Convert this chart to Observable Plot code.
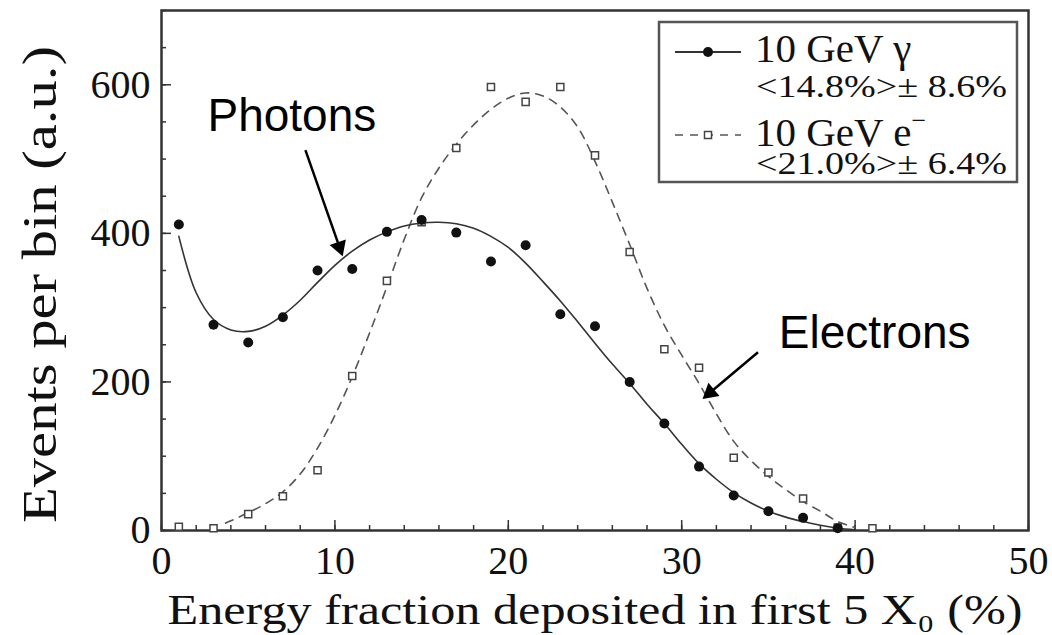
<!DOCTYPE html>
<html>
<head>
<meta charset="utf-8">
<script src="https://cdn.jsdelivr.net/npm/d3@7"></script>
<script src="https://cdn.jsdelivr.net/npm/@observablehq/plot@0.6"></script>
<style>
  html, body { margin: 0; padding: 0; background: #fff; }
  #wrap { position: relative; width: 1052px; height: 635px; overflow: hidden; }
  #legend { position: absolute; left: 0; top: 0; pointer-events: none; }
</style>
</head>
<body>
<div id="wrap"><div id="chart"></div></div>
<script>
// ---- data ----
const photonX = [1,3,5,7,9,11,13,15,17,19,21,23,25,27,29,31,33,35,37,39];
const photonEvents = [412,277,253,287,350,352,402,418,401,362,384,291,275,200,144,86,47,26,17,3];

const electronX = [1,3,5,7,9,11,13,15,17,19,21,23,25,27,29,31,33,35,37,39,41];
const electronEvents = [5,3,22,46,81,208,336,415,515,597,577,597,505,375,244,219,98,78,43,4,3];

// fitted curves
const photonFitX = [1,2,3,4,5,6,7,8,9,10,11,12,13,14,15,16,17,18,19,20,21,22,23,24,25,26,27,28,29,30,31,32,33,34,35,36,37,38,39,40];
const photonFitY = [396,320,284,270,268,275,290,310,334,357,376,391,402,410,414,415,413,407,396,381,360,335,309,281,252,224,198,170,144,116,90,69,51,37,26,18,12,7,3,1];

const electronFitX = [3.7,4,5,6,7,8,9,10,11,12,13,14,15,16,17,18,19,20,21,22,23,24,25,26,27,28,29,30,31,32,33,34,35,36,37,38,39,40];
const electronFitY = [10,13,24,36,52,76,111,155,207,266,328,392,448,488,520,546,567,582,589,585,570,543,497,442,385,326,276,236,198,157,120,94,73,55,39,26,12,4];

const xMajorTicks = [0,10,20,30,40,50];
const xMinorTicks = [0,2,4,6,8,10,12,14,16,18,20,22,24,26,28,30,32,34,36,38,40,42,44,46,48,50];
const yMajorTicks = [0,200,400,600];
const yMinorTicks = [0,50,100,150,200,250,300,350,400,450,500,550,600,650,700];

const annotationLabels = ["Photons","Electrons"];
const annotationX = [2.65, 35.6];
const annotationY = [558, 265];
const arrowX1 = [8.3, 34.4];
const arrowY1 = [512, 240];
const arrowX2 = [10.45, 31.2];
const arrowY2 = [369, 177];

const legendTitles = ["10 GeV \u03b3", "10 GeV e"];
const legendStats = ["<14.8%>\u00b1 8.6%", "<21.0%>\u00b1 6.4%"];

const xLabel = "Energy fraction deposited in first 5 X\u2080 (%)";
const yLabel = "Events per bin (a.u.)";

// ---- layout constants ----
const W = 1052, H = 635, mL = 161, mR = 24, mT = 10, mB = 105;
const xDomain = [0, 50], yDomain = [0, 700];

// ---- tables ----
const photons = photonX.map((x, i) => ({x, y: photonEvents[i]}));
const electrons = electronX.map((x, i) => ({x, y: electronEvents[i]}));
const photonFit = photonFitX.map((x, i) => ({x, y: photonFitY[i]}));
const electronFit = electronFitX.map((x, i) => ({x, y: electronFitY[i]}));
const notes = annotationLabels.map((t, i) => ({t, x: annotationX[i], y: annotationY[i]}));

// arrow heads: filled triangles oriented along each arrow (computed through the scales)
const xs = Plot.scale({x: {domain: xDomain, range: [mL, W - mR]}});
const ys = Plot.scale({y: {domain: yDomain, range: [H - mB, mT]}});
const HEAD_BACK = 10; // px from tip to triangle centroid
const arrows = arrowX1.map((x1, i) => {
  const p1 = [xs.apply(x1), ys.apply(arrowY1[i])];
  const p2 = [xs.apply(arrowX2[i]), ys.apply(arrowY2[i])];
  const dx = p2[0] - p1[0], dy = p2[1] - p1[1], len = Math.hypot(dx, dy);
  const c = [p2[0] - HEAD_BACK * dx / len, p2[1] - HEAD_BACK * dy / len];
  return {
    x1, y1: arrowY1[i],
    hx: xs.invert(c[0]), hy: ys.invert(c[1]),
    angle: Math.atan2(dx, -dy) * 180 / Math.PI
  };
});

const serif = "'Liberation Serif', 'Times New Roman', serif";
const sans = "'Liberation Sans', Arial, Helvetica, sans-serif";

const chart = Plot.plot({
  width: W,
  height: H,
  marginLeft: mL,
  marginRight: mR,
  marginTop: mT,
  marginBottom: mB,
  x: {domain: xDomain},
  y: {domain: yDomain},
  style: {fontFamily: serif, background: "#fff", color: "#111"},
  marks: [
    // ticks (inward)
    Plot.axisX(xMinorTicks, {tickSize: -5, tickFormat: () => "", label: null, stroke: "#333", strokeWidth: 1.5}),
    Plot.axisX(xMajorTicks, {tickSize: -10, tickFormat: () => "", label: null, stroke: "#333", strokeWidth: 1.5}),
    Plot.axisX(xMajorTicks, {tickSize: 0, tickPadding: 15, fontSize: 40, fontFamily: serif, label: null}),
    Plot.axisY(yMinorTicks, {tickSize: -5, tickFormat: () => "", label: null, stroke: "#333", strokeWidth: 1.5}),
    Plot.axisY(yMajorTicks, {tickSize: -10, tickFormat: () => "", label: null, stroke: "#333", strokeWidth: 1.5}),
    Plot.axisY(yMajorTicks, {tickSize: 0, tickPadding: 11, fontSize: 40, fontFamily: serif, label: null}),
    Plot.frame({stroke: "#333", strokeWidth: 2.5}),
    // axis titles
    Plot.text([xLabel], {text: d => d, frameAnchor: "bottom", textAnchor: "middle", lineAnchor: "middle", dy: 80, fontSize: 42, fontFamily: serif, fill: "#111", className: "xlabel"}),
    Plot.text([yLabel], {text: d => d, frameAnchor: "left", textAnchor: "middle", lineAnchor: "middle", dx: -121, dy: 14, rotate: -90, fontSize: 48, fontFamily: serif, fill: "#111", className: "ylabel"}),
    // fits
    Plot.line(electronFit, {x: "x", y: "y", curve: "catmull-rom", stroke: "#555", strokeWidth: 1.6, strokeDasharray: "8,7"}),
    Plot.line(photonFit, {x: "x", y: "y", curve: "catmull-rom", stroke: "#333", strokeWidth: 1.6}),
    // data
    Plot.dot(electrons, {x: "x", y: "y", symbol: "square", r: 4, fill: "#fff", stroke: "#444", strokeWidth: 1.5}),
    Plot.dot(photons, {x: "x", y: "y", r: 5, fill: "#111", stroke: "none"}),
    // annotations
    Plot.text(notes, {x: "x", y: "y", text: "t", textAnchor: "start", fontSize: 46, fontFamily: sans, fill: "#000"}),
    Plot.link(arrows, {x1: "x1", y1: "y1", x2: "hx", y2: "hy", stroke: "#000", strokeWidth: 2.5}),
    Plot.dot(arrows, {x: "hx", y: "hy", symbol: "triangle", r: 6.4, rotate: "angle", fill: "#000", stroke: "none"})
  ]
});
// stretch the axis titles to the length they have in the reference
d3.select(chart).selectAll(".xlabel text").attr("textLength", 855).attr("lengthAdjust", "spacingAndGlyphs");
d3.select(chart).selectAll(".ylabel text").attr("textLength", 477).attr("lengthAdjust", "spacingAndGlyphs");
document.getElementById("chart").appendChild(chart);

// ---- legend (inside the plot area, top right) ----
const leg = d3.select("#wrap").append("svg")
  .attr("id", "legend").attr("width", W).attr("height", H);
leg.append("rect").attr("x", 659).attr("y", 22).attr("width", 358).attr("height", 160)
  .attr("fill", "#fff").attr("stroke", "#555").attr("stroke-width", 2.5);
// entry 1 : photons
leg.append("line").attr("x1", 675).attr("x2", 741).attr("y1", 52).attr("y2", 52)
  .attr("stroke", "#333").attr("stroke-width", 1.8);
leg.append("circle").attr("cx", 708).attr("cy", 52).attr("r", 5).attr("fill", "#111");
leg.append("text").attr("x", 755).attr("y", 62).attr("font-family", serif).attr("font-size", 41)
  .attr("fill", "#111").text(legendTitles[0]);
leg.append("text").attr("x", 756).attr("y", 97).attr("font-family", serif).attr("font-size", 31)
  .attr("textLength", 251).attr("lengthAdjust", "spacingAndGlyphs")
  .attr("fill", "#111").text(legendStats[0]);
// entry 2 : electrons
leg.append("line").attr("x1", 675).attr("x2", 741).attr("y1", 135).attr("y2", 135)
  .attr("stroke", "#555").attr("stroke-width", 1.6).attr("stroke-dasharray", "8,7");
leg.append("rect").attr("x", 704.5).attr("y", 131.5).attr("width", 7).attr("height", 7)
  .attr("fill", "#fff").attr("stroke", "#444").attr("stroke-width", 1.5);
const t2 = leg.append("text").attr("x", 755).attr("y", 146).attr("font-family", serif).attr("font-size", 41)
  .attr("fill", "#111");
t2.append("tspan").text(legendTitles[1]);
t2.append("tspan").attr("dy", -17).attr("font-size", 26).text("\u2212");
leg.append("text").attr("x", 756).attr("y", 174).attr("font-family", serif).attr("font-size", 31)
  .attr("textLength", 251).attr("lengthAdjust", "spacingAndGlyphs")
  .attr("fill", "#111").text(legendStats[1]);
</script>
</body>
</html>
